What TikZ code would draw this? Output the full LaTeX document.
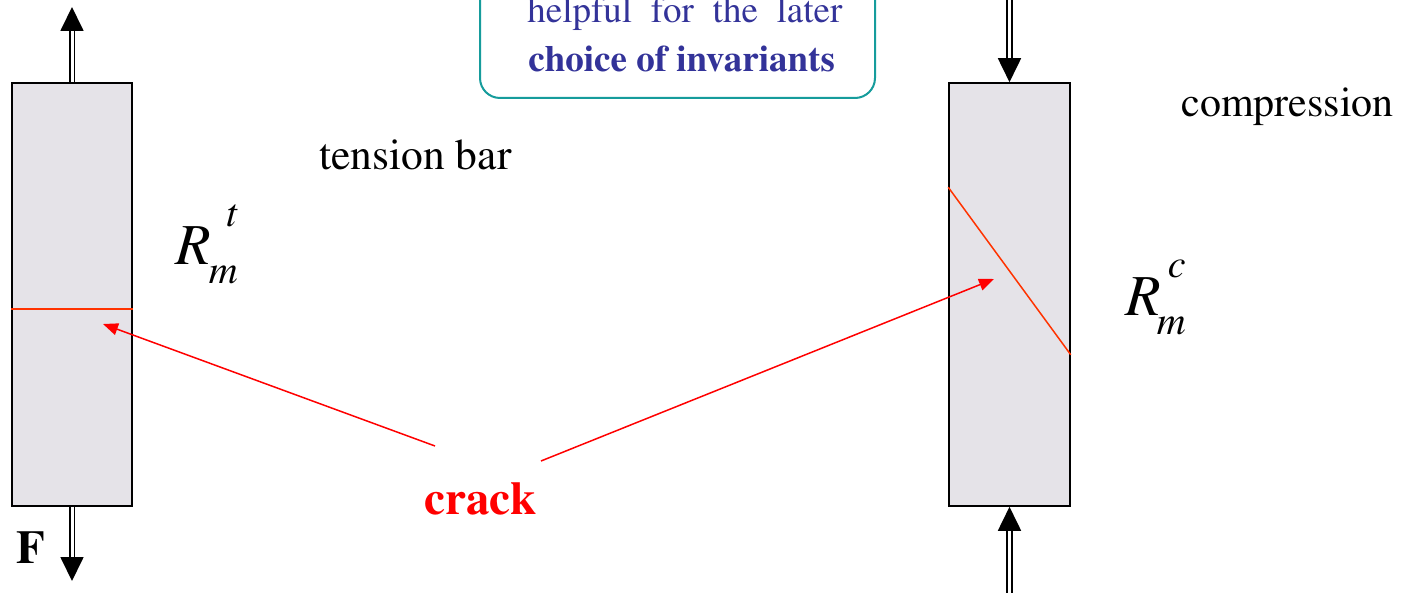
\documentclass[tikz,border=0pt]{standalone}
\usepackage[T1]{fontenc}
\usepackage{mathptmx}
\usetikzlibrary{positioning, arrows.meta}

\definecolor{barfill}{RGB}{229,227,232}
\definecolor{crackred}{RGB}{255,51,0}
\definecolor{notenavy}{RGB}{51,51,153}
\definecolor{noteteal}{RGB}{22,156,156}

% strength symbol: #1 sub, #2 sup, #3 kern after R
\newcommand{\strengthsym}[3]{\textit{R}\kern#3\raisebox{-9.5pt}{\fontsize{20}{20}\selectfont\textit{#1}}\llap{\raisebox{19pt}{\fontsize{20}{20}\selectfont\textit{#2}}}}

\begin{document}
\begin{tikzpicture}[
  x=0.5pt, y=-0.5pt,
  barbox/.style={rectangle, draw=black, line width=0.8pt, fill=barfill, minimum width=60pt, minimum height=211.5pt, inner sep=0pt},
  forcearrow/.style={draw=black, double=white, double distance=1.5pt, line width=0.9pt, -{Triangle[length=12pt, width=11.5pt]}},
  crackline/.style={draw=crackred, line width=0.75pt},
  crackarrow/.style={draw=red, line width=0.75pt, -{Triangle[length=7.5pt, width=6pt]}},
  labeltext/.style={anchor=base west, inner sep=0pt, font=\fontsize{21.75}{25}\selectfont},
  notetext/.style={anchor=base west, inner sep=0pt, text=notenavy, font=\fontsize{18.5}{22}\selectfont},
  notebox/.style={draw=noteteal, line width=1pt, rounded corners=10pt, fill=white}
]
\useasboundingbox (0,0) rectangle (1410,593);
\clip (0,0) rectangle (1410,593);

% Note box (top cut off)
\draw[notebox] (480,-60) rectangle (875,98);
\node[notetext] (helpLine) at (527,23) {\makebox[157.5pt][s]{helpful for the later}};
\node[notetext] (choiceLine) at (528,72) {\textbf{choice of invariants}};

% Bars
\node[barbox] (tbar) at (72,294.5) {};
\node[barbox, minimum width=60.5pt] (cbar) at (1009.5,294.5) {};

% Cracks in the bars
\draw[crackline] ([yshift=-7.25pt]tbar.west) -- ([yshift=-7.25pt]tbar.east);
\draw[crackline] ([yshift=-52.5pt]cbar.north west) -- ([yshift=76pt]cbar.south east);

% Loads
\coordinate (tTop) at (72,7);
\coordinate (tBottom) at (72,581);
\coordinate (cTop) at (1009.5,-10);
\coordinate (cBottom) at (1009.5,603);
\draw[forcearrow] (tbar.north) -- (tTop);
\draw[forcearrow] (tbar.south) -- (tBottom);
\draw[forcearrow] (cTop) -- (cbar.north);
\draw[forcearrow] (cBottom) -- (cbar.south);

% Labels
\node[labeltext] (tensionLabel) at (319,170) {tension bar};
\node[labeltext, font=\fontsize{21}{25}\selectfont] (compLabel) at (1181,117) {compression};
\node[labeltext, font=\fontsize{23.5}{25}\selectfont\bfseries] (forceLabel) at (16,563) {F};
\node[labeltext, font=\fontsize{29}{30}\selectfont] (rmt) at (175,265) {\strengthsym{m}{t}{-1pt}};
\node[labeltext, font=\fontsize{29}{30}\selectfont] (rmc) at (1125,316) {\strengthsym{m}{c}{-2pt}};
\node[labeltext, font=\fontsize{23.5}{25}\selectfont\bfseries, text=red] (crackLabel) at (424,515) {crack};

% Crack pointers
\coordinate (crackL) at (435,446);
\coordinate (crackR) at (541,461);
\coordinate (tCrackTip) at (103,324);
\coordinate (cCrackTip) at (994,279);
\draw[crackarrow] (crackL) -- (tCrackTip);
\draw[crackarrow] (crackR) -- (cCrackTip);

\end{tikzpicture}
\end{document}
